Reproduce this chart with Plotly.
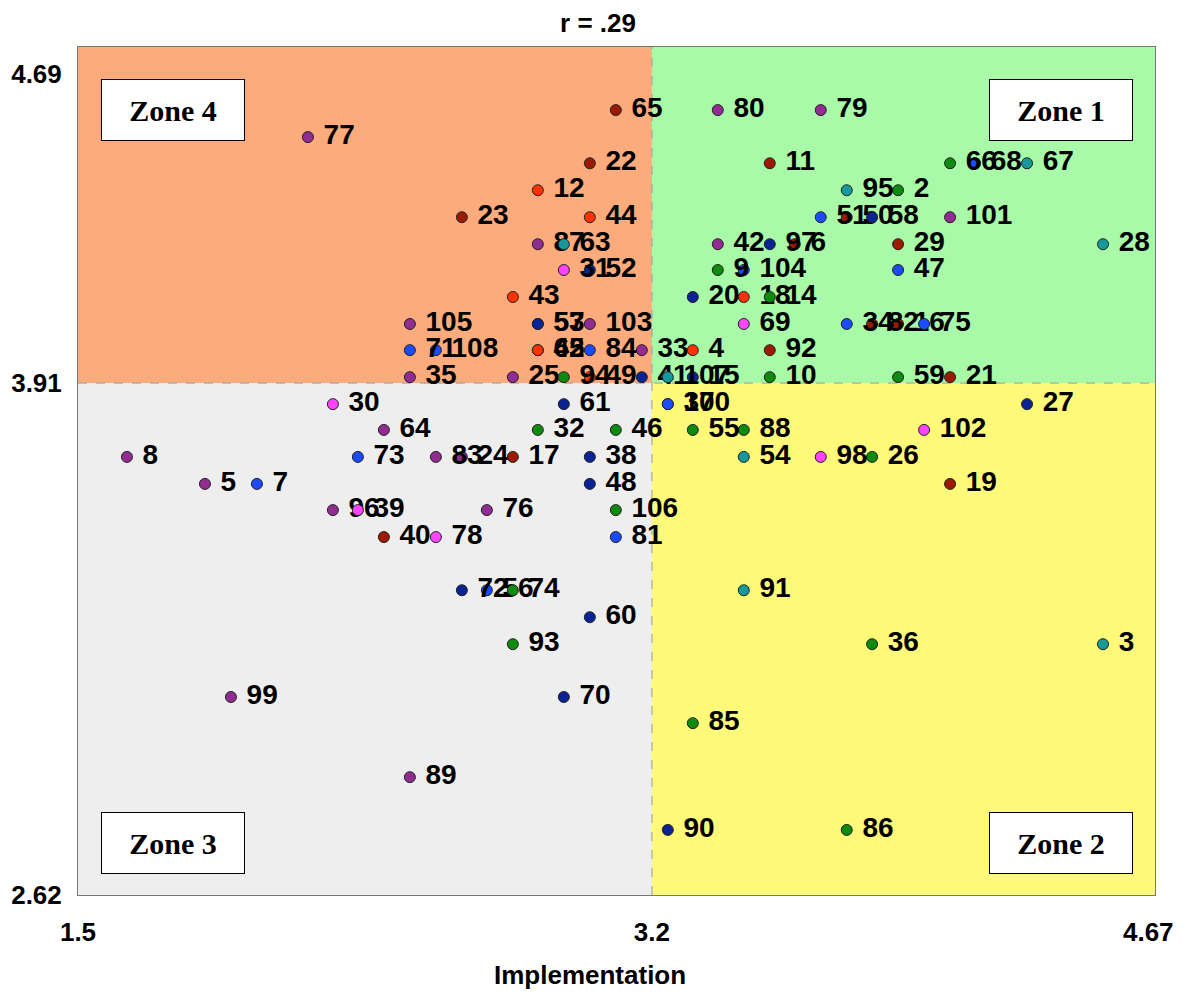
import plotly.graph_objects as go

# ---------------- data ----------------
point_ids = [77, 23, 65, 22, 12, 44, 87, 63, 31, 52, 43, 105, 57, 53, 103, 71, 108, 62, 45, 84,
             33, 35, 25, 94, 49, 41, 107, 15, 80, 79, 11, 66, 68, 67, 95, 2, 51, 50, 58, 101,
             42, 97, 6, 29, 28, 9, 104, 47, 20, 18, 14, 69, 34, 82, 16, 75, 4, 92, 10, 59,
             21, 30, 61, 64, 32, 46, 8, 73, 83, 24, 17, 38, 5, 7, 48, 96, 39, 76, 106, 40,
             78, 81, 72, 56, 74, 60, 93, 99, 70, 89, 37, 100, 27, 55, 88, 102, 54, 98, 26, 19,
             91, 36, 3, 85, 90, 86]

implementation = [2.181, 2.637, 3.093, 3.016, 2.862, 3.016, 2.862, 2.939, 2.939, 3.016, 2.788, 2.483, 2.862, 2.862, 3.016, 2.483, 2.560, 2.862, 2.862, 3.016,
                  3.170, 2.483, 2.788, 2.939, 3.016, 3.170, 3.247, 3.321, 3.395, 3.700, 3.549, 4.083, 4.157, 4.311, 3.777, 3.929, 3.700, 3.777, 3.852, 4.083,
                  3.395, 3.549, 3.623, 3.929, 4.536, 3.395, 3.472, 3.929, 3.321, 3.472, 3.549, 3.472, 3.777, 3.852, 3.929, 4.006, 3.321, 3.549, 3.549, 3.929,
                  4.083, 2.255, 2.939, 2.406, 2.862, 3.093, 1.645, 2.329, 2.560, 2.637, 2.788, 3.016, 1.876, 2.030, 3.016, 2.255, 2.329, 2.711, 3.093, 2.406,
                  2.560, 3.093, 2.637, 2.711, 2.788, 3.016, 2.788, 1.953, 2.939, 2.483, 3.247, 3.247, 4.311, 3.321, 3.472, 4.006, 3.472, 3.700, 3.852, 4.083,
                  3.472, 3.852, 4.536, 3.321, 3.247, 3.777]

importance = [4.530, 4.328, 4.598, 4.464, 4.396, 4.328, 4.260, 4.260, 4.195, 4.195, 4.127, 4.059, 4.059, 4.059, 4.059, 3.993, 3.993, 3.993, 3.993, 3.993,
              3.993, 3.925, 3.925, 3.925, 3.925, 3.925, 3.925, 3.925, 4.598, 4.598, 4.464, 4.464, 4.464, 4.464, 4.396, 4.396, 4.328, 4.328, 4.328, 4.328,
              4.260, 4.260, 4.260, 4.260, 4.260, 4.195, 4.195, 4.195, 4.127, 4.127, 4.127, 4.059, 4.059, 4.059, 4.059, 4.059, 3.993, 3.993, 3.925, 3.925,
              3.925, 3.857, 3.857, 3.792, 3.792, 3.792, 3.724, 3.724, 3.724, 3.724, 3.724, 3.724, 3.656, 3.656, 3.656, 3.590, 3.590, 3.590, 3.590, 3.522,
              3.522, 3.522, 3.388, 3.388, 3.388, 3.320, 3.252, 3.119, 3.119, 2.917, 3.857, 3.857, 3.857, 3.792, 3.792, 3.792, 3.724, 3.724, 3.724, 3.656,
              3.388, 3.252, 3.252, 3.053, 2.784, 2.784]

color_group = ["P", "DR", "DR", "DR", "R", "R", "P", "T", "M", "N", "R", "P", "N", "N", "P", "B", "B", "R", "R", "B",
               "P", "P", "P", "G", "R", "N", "T", "N", "P", "P", "DR", "G", "B", "T", "T", "G", "B", "DR", "N", "P",
               "P", "N", "DR", "DR", "T", "G", "B", "B", "N", "R", "G", "M", "B", "DR", "DR", "B", "R", "DR", "G", "G",
               "DR", "M", "N", "P", "G", "G", "P", "B", "P", "P", "DR", "N", "P", "B", "N", "P", "M", "P", "G", "DR",
               "M", "B", "N", "B", "G", "N", "G", "P", "N", "P", "B", "B", "N", "G", "G", "M", "T", "M", "G", "DR",
               "T", "G", "T", "G", "N", "G"]

x_ticks = [1.5, 3.2, 4.67]
y_ticks = [2.62, 3.91, 4.69]
x_mean = 3.2
y_mean = 3.91
zone_names = ["Zone 1", "Zone 2", "Zone 3", "Zone 4"]

# ---------------- styles ----------------
palette = {"P": "#922B92", "DR": "#9B1A00", "R": "#FF3300", "B": "#1A4BFF",
           "N": "#0A2394", "G": "#0E8A0E", "T": "#17999B", "M": "#FF44FF"}
XMIN, XMAX = 1.5, 4.69
YMIN, YMAX = 2.62, 4.757
LABEL_FONT = "Liberation Sans, Arial, sans-serif"

fig = go.Figure()

# quadrant backgrounds
quads = [
    (XMIN, x_mean, y_mean, YMAX, "#FCAB7D"),
    (x_mean, XMAX, y_mean, YMAX, "#A8FAA8"),
    (XMIN, x_mean, YMIN, y_mean, "#EEEEEE"),
    (x_mean, XMAX, YMIN, y_mean, "#FFF97A"),
]
for x0, x1, y0, y1, c in quads:
    fig.add_shape(type="rect", xref="x", yref="y", x0=x0, x1=x1, y0=y0, y1=y1,
                  fillcolor=c, line=dict(width=0), layer="below")
fig.add_shape(type="line", xref="x", yref="y", x0=x_mean, x1=x_mean, y0=YMIN, y1=YMAX,
              line=dict(color="#9a9a9a", width=1, dash="dash"), layer="below")
fig.add_shape(type="line", xref="x", yref="y", x0=XMIN, x1=XMAX, y0=y_mean, y1=y_mean,
              line=dict(color="#9a9a9a", width=1, dash="dash"), layer="below")

for g in ["P", "DR", "R", "B", "N", "G", "T", "M"]:
    idx = [i for i, c in enumerate(color_group) if c == g]
    fig.add_trace(go.Scatter(
        x=[implementation[i] for i in idx],
        y=[importance[i] for i in idx],
        text=[" " + str(point_ids[i]) for i in idx],
        mode="markers+text",
        textposition="middle right",
        textfont=dict(family=LABEL_FONT, size=28, color="black", weight="bold"),
        marker=dict(size=11, color=palette[g], line=dict(color="#222222", width=1)),
        cliponaxis=False,
        showlegend=False,
        hoverinfo="skip",
    ))

# zone label boxes
zone_pos = {"Zone 1": (0.9127, 0.9257), "Zone 2": (0.9127, 0.0613),
            "Zone 3": (0.0882, 0.0613), "Zone 4": (0.0882, 0.9257)}
for z in zone_names:
    zx, zy = zone_pos[z]
    fig.add_annotation(xref="paper", yref="paper", x=zx, y=zy, xanchor="center", yanchor="middle",
                       text="<b>" + z + "</b>",
                       showarrow=False, bgcolor="white", bordercolor="black", borderwidth=1,
                       width=140, height=58,
                       font=dict(family="Liberation Serif, Times New Roman, serif", size=30, color="black"))

fig.add_annotation(xref="paper", yref="paper", x=0.475, y=0, yshift=-80, yanchor="middle",
                   xanchor="center",
                   text="<b>Implementation</b>", showarrow=False,
                   font=dict(family=LABEL_FONT, size=26, color="black"))

# the page body has an 8px margin, so the figure starts at (8, 8) in the window
fig.update_layout(
    width=1180, height=986,
    margin=dict(l=70, r=33, t=39, b=99, pad=0),
    paper_bgcolor="white", plot_bgcolor="white",
    title=dict(text="<b>r = .29</b>", x=0.5, xref="container", xanchor="center",
               y=0.985, yref="container", yanchor="middle",
               font=dict(family=LABEL_FONT, size=26, color="black")),
    xaxis=dict(range=[XMIN, XMAX], tickvals=x_ticks, ticktext=[str(v) for v in x_ticks],
               showgrid=False, zeroline=False, ticks="", ticklabelstandoff=14, automargin=False,
               tickfont=dict(family=LABEL_FONT, size=26, color="black", weight="bold"),
               showline=True, linecolor="#777777", mirror=True),
    yaxis=dict(range=[YMIN, YMAX], tickvals=y_ticks, ticktext=[str(v) for v in y_ticks],
               showgrid=False, zeroline=False, ticks="", ticklabelstandoff=10, automargin=False,
               tickfont=dict(family=LABEL_FONT, size=26, color="black", weight="bold"),
               showline=True, linecolor="#777777", mirror=True),
)

fig.write_html("out.html")
